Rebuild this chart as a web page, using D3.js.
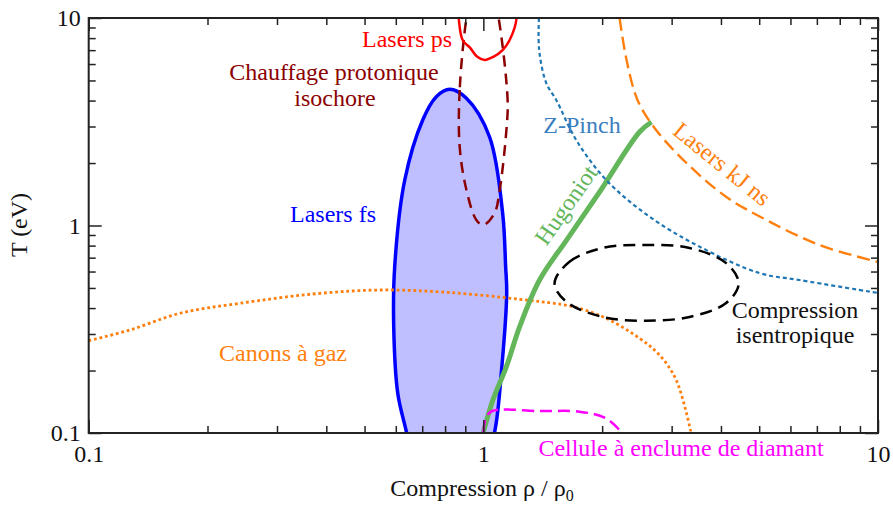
<!DOCTYPE html>
<html>
<head>
<meta charset="utf-8">
<script src="https://cdn.jsdelivr.net/npm/d3@7"></script>
<style>
  html, body { margin: 0; padding: 0; background: #fff; }
  svg { display: block; }
  svg text { font-family: "Liberation Serif", "Times New Roman", serif; }
</style>
</head>
<body>
<svg id="chart" width="893" height="509"></svg>
<script>
// ---------- data (compression rho/rho0, temperature eV) ----------
const xTickValues = [0.1, 1, 10];
const xTickLabels = ["0.1", "1", "10"];
const yTickValues = [0.1, 1, 10];
const yTickLabels = ["0.1", "1", "10"];

// closed regions
const lasersFs = [[0.822,4.53],[0.906,4.10],[1.037,2.67],[1.119,1.15],[1.139,0.631],[1.146,0.473],[1.112,0.201],[1.068,0.101],[0.98,0.058],[0.82,0.042],[0.68,0.058],[0.6385,0.101],[0.6067,0.156],[0.5928,0.324],[0.5961,0.631],[0.6322,1.657],[0.702,3.224],[0.760,4.175]];
const lasersPs = [[0.866,10],[0.886,7.83],[0.925,7.2],[0.965,6.5],[1.008,6.28],[1.06,6.5],[1.119,7.01],[1.166,7.83],[1.214,10],[1.19,14],[1.0,17],[0.86,14]];
const chauffage = [[0.906,10],[0.871,4.50],[0.871,2.399],[0.906,1.483],[0.960,1.063],[1.0,1.005],[1.068,1.149],[1.100,1.483],[1.144,2.886],[1.152,4.03],[1.093,10],[1.06,12.8],[0.99,13.8],[0.93,12.8]];
const isentropique = [[1.515,0.5262],[1.653,0.669],[2.005,0.779],[2.561,0.806],[3.329,0.779],[4.123,0.659],[4.437,0.5262],[4.123,0.4231],[3.329,0.3624],[2.561,0.3476],[2.005,0.3624],[1.622,0.4293]];

// open curves
const zPinch = [[1.383,10],[1.385,7.01],[1.444,4.845],[1.530,4.027],[1.719,2.582],[2.048,1.657],[2.637,1.103],[3.529,0.791],[5.006,0.590],[6.323,0.546],[10,0.473]];
const lasersKJ = [[2.214,10],[2.306,6.28],[2.458,4.027],[2.715,2.951],[3.271,2.001],[4.129,1.372],[5.215,1.063],[7.10,0.806],[10,0.667]];
const hugoniot = [[1.0,0.101],[1.057,0.144],[1.144,0.2088],[1.236,0.3253],[1.388,0.546],[1.625,0.851],[1.970,1.450],[2.487,2.822],[2.667,3.154]];
const canons = [[0.1,0.2785],[0.1272,0.3136],[0.1703,0.3776],[0.2415,0.4217],[0.3697,0.4676],[0.5464,0.4888],[0.806,0.4765],[1.236,0.4408],[1.683,0.4062],[2.048,0.357],[2.487,0.286],[2.795,0.2376],[3.081,0.180],[3.362,0.1]];
const cellule = [[1.0,0.101],[1.0176,0.1198],[1.057,0.128],[1.388,0.1275],[1.753,0.1267],[2.048,0.1177],[2.236,0.101]];

const labelTexts = ["Lasers ps","Chauffage protonique","isochore","Lasers fs","Z-Pinch","Hugoniot","Lasers kJ ns","Compression","isentropique","Canons à gaz","Cellule à enclume de diamant"];

// ---------- drawing ----------
const FONT = "'Liberation Serif', 'Times New Roman', Times, serif";
const pLeft = 88.7, pRight = 878, pTop = 18, pBottom = 433;
const svg = d3.select("#chart");

const x = d3.scaleLog().domain([0.1, 10]).range([pLeft, pRight]);
const y = d3.scaleLog().domain([0.1, 10]).range([pBottom, pTop]);

svg.append("defs").append("clipPath").attr("id", "plotclip")
  .append("rect").attr("x", pLeft).attr("y", pTop).attr("width", pRight - pLeft).attr("height", pBottom - pTop);

const plot = svg.append("g").attr("clip-path", "url(#plotclip)");

const lineClosed = d3.line().x(d => x(d[0])).y(d => y(d[1])).curve(d3.curveCatmullRomClosed.alpha(0.5));
const lineOpen = d3.line().x(d => x(d[0])).y(d => y(d[1])).curve(d3.curveCatmullRom.alpha(0.5));

plot.append("path").attr("d", lineClosed(lasersFs))
  .attr("fill", "#bfbfff").attr("stroke", "#0000ff").attr("stroke-width", 3.5);

plot.append("path").attr("d", lineOpen(canons))
  .attr("fill", "none").attr("stroke", "#ff7f0e").attr("stroke-width", 2.8).attr("stroke-dasharray", "2.8,2.8");

plot.append("path").attr("d", lineOpen(hugoniot))
  .attr("fill", "none").attr("stroke", "#63b65a").attr("stroke-width", 5);

plot.append("path").attr("d", lineOpen(cellule))
  .attr("fill", "none").attr("stroke", "#ff00ff").attr("stroke-width", 2.5).attr("stroke-dasharray", "12,6");

plot.append("path").attr("d", lineClosed(chauffage))
  .attr("fill", "none").attr("stroke", "#8b0000").attr("stroke-width", 2.5).attr("stroke-dasharray", "11,7");

plot.append("path").attr("d", lineClosed(lasersPs))
  .attr("fill", "none").attr("stroke", "#ff0000").attr("stroke-width", 2.5);

plot.append("path").attr("d", lineOpen(zPinch))
  .attr("fill", "none").attr("stroke", "#1f77b4").attr("stroke-width", 2.2).attr("stroke-dasharray", "4,3");

plot.append("path").attr("d", lineOpen(lasersKJ))
  .attr("fill", "none").attr("stroke", "#ff7f0e").attr("stroke-width", 2.4).attr("stroke-dasharray", "13,6");

plot.append("path").attr("d", lineClosed(isentropique))
  .attr("fill", "none").attr("stroke", "#000").attr("stroke-width", 2.5).attr("stroke-dasharray", "12,7");

// ---------- axes ----------
const minorX = [];
[0.1, 1].forEach(d => { for (let k = 2; k <= 9; k++) minorX.push(d * k); });
const minorY = minorX.slice();

function styleAxis(g) {
  g.attr("font-family", FONT);
  g.select(".domain").remove();
  g.selectAll(".tick line").attr("stroke", "#222").attr("stroke-width", 1.5);
  g.selectAll(".tick text").attr("fill", "#111").attr("font-size", 24).attr("font-family", FONT);
}

svg.append("g").attr("transform", `translate(0,${pBottom})`)
  .call(d3.axisBottom(x).tickValues(xTickValues).tickSize(-13).tickPadding(12)
    .tickFormat((d, i) => xTickLabels[i])).call(styleAxis);
svg.append("g").attr("transform", `translate(0,${pBottom})`)
  .call(d3.axisBottom(x).tickValues(minorX).tickSize(-7).tickFormat("")).call(styleAxis);
svg.append("g").attr("transform", `translate(0,${pTop})`)
  .call(d3.axisTop(x).tickValues(xTickValues).tickSize(-13).tickFormat("")).call(styleAxis);
svg.append("g").attr("transform", `translate(0,${pTop})`)
  .call(d3.axisTop(x).tickValues(minorX).tickSize(-7).tickFormat("")).call(styleAxis);

svg.append("g").attr("transform", `translate(${pLeft},0)`)
  .call(d3.axisLeft(y).tickValues(yTickValues).tickSize(-13).tickPadding(8)
    .tickFormat((d, i) => yTickLabels[i])).call(styleAxis);
svg.append("g").attr("transform", `translate(${pLeft},0)`)
  .call(d3.axisLeft(y).tickValues(minorY).tickSize(-7).tickFormat("")).call(styleAxis);
svg.append("g").attr("transform", `translate(${pRight},0)`)
  .call(d3.axisRight(y).tickValues(yTickValues).tickSize(-13).tickFormat("")).call(styleAxis);
svg.append("g").attr("transform", `translate(${pRight},0)`)
  .call(d3.axisRight(y).tickValues(minorY).tickSize(-7).tickFormat("")).call(styleAxis);

svg.append("rect").attr("x", pLeft).attr("y", pTop).attr("width", pRight - pLeft).attr("height", pBottom - pTop)
  .attr("fill", "none").attr("stroke", "#222").attr("stroke-width", 2);

svg.append("text").attr("x", 482).attr("y", 496).attr("text-anchor", "middle")
  .attr("font-family", FONT).attr("font-size", 24).attr("fill", "#111")
  .call(t => {
    t.append("tspan").text("Compression ρ / ρ");
    t.append("tspan").attr("font-size", 16).attr("dy", 5).text("0");
  });
svg.append("text").attr("transform", "translate(27,225) rotate(-90)").attr("text-anchor", "middle")
  .attr("font-family", FONT).attr("font-size", 24).attr("fill", "#111").text("T (eV)");

// ---------- annotations ----------
function label(txt, px, py, color, rot) {
  const t = svg.append("text").attr("text-anchor", "middle").attr("font-family", FONT)
    .attr("font-size", 24).attr("fill", color).text(txt);
  if (rot) t.attr("transform", `translate(${px},${py}) rotate(${rot})`).attr("dominant-baseline", "central");
  else t.attr("x", px).attr("y", py);
}
label(labelTexts[0], 407, 47, "#ff0000");
label(labelTexts[1], 334, 80, "#8b0000");
label(labelTexts[2], 335, 106, "#8b0000");
label(labelTexts[3], 333, 222, "#0000ff");
label(labelTexts[4], 582, 133, "#3a80bf");
label(labelTexts[5], 566, 205, "#63b65a", -55);
label(labelTexts[6], 722, 164, "#ff7f0e", 39);
label(labelTexts[7], 795, 318, "#111");
label(labelTexts[8], 795, 343, "#111");
label(labelTexts[9], 283, 361, "#ff7f0e");
label(labelTexts[10], 681, 456, "#ff00ff");
</script>
</body>
</html>
